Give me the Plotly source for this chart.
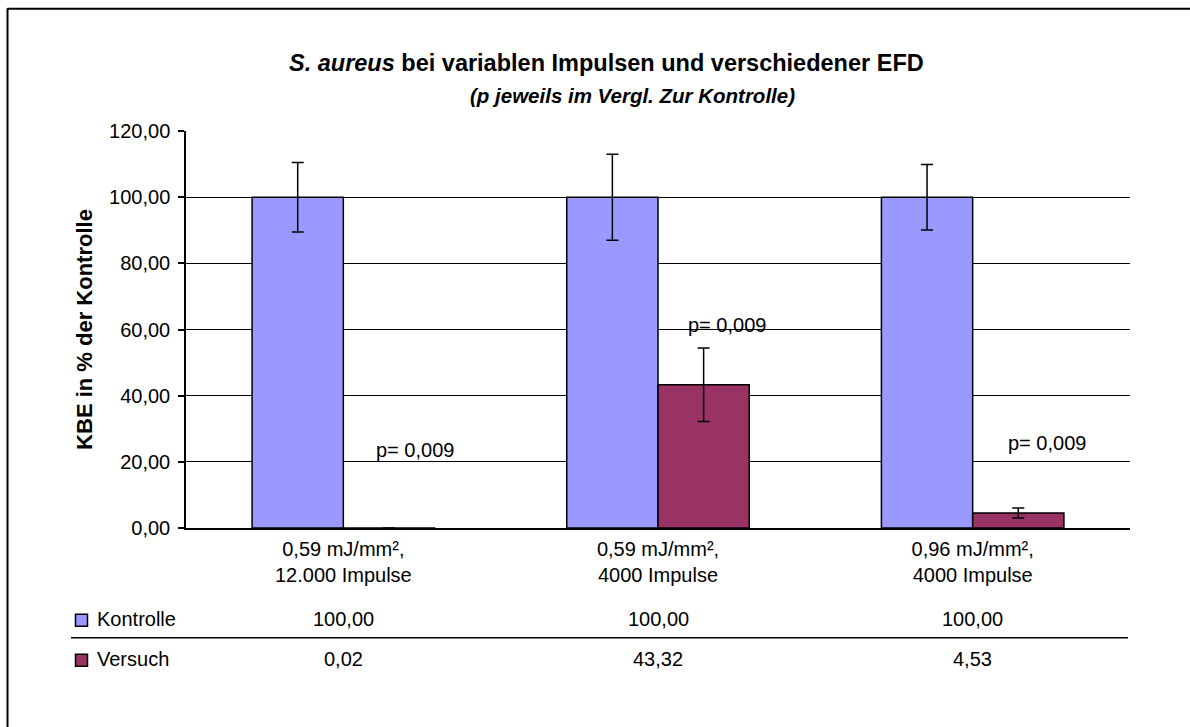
import plotly.graph_objects as go

categories = ["0,59 mJ/mm²,<br>12.000 Impulse", "0,59 mJ/mm²,<br>4000 Impulse", "0,96 mJ/mm²,<br>4000 Impulse"]
kontrolle = [100.00, 100.00, 100.00]
kontrolle_err = [10.5, 13.0, 9.9]
versuch = [0.02, 43.32, 4.53]
versuch_err = [0.0, 11.1, 1.5]
p_labels = ["p= 0,009", "p= 0,009", "p= 0,009"]
p_y = [23.5, 61.3, 25.6]
y_ticks = [0, 20, 40, 60, 80, 100, 120]

FONT = "Liberation Sans, Arial, sans-serif"
FS = 20
L, R, T, B = 186, 1130, 130.7, 527.7


def px(x):
    return (x - L) / (R - L)


def py(y):
    return (B - y) / (B - T)


def fmt(v):
    return f"{v:.2f}".replace(".", ",")


fig = go.Figure()
fig.add_trace(go.Bar(
    name="Kontrolle", x=categories, y=kontrolle,
    marker=dict(color="#9999FF", line=dict(color="black", width=1.5)),
    error_y=dict(type="data", array=kontrolle_err, color="black", thickness=1.5, width=6),
))
fig.add_trace(go.Bar(
    name="Versuch", x=categories, y=versuch,
    marker=dict(color="#993366", line=dict(color="black", width=1.5)),
    error_y=dict(type="data", array=versuch_err, color="black", thickness=1.5, width=6),
))

annotations = []
shifts = [72, 69, 74]
for i, c in enumerate(categories):
    annotations.append(dict(x=c, y=p_y[i], xref="x", yref="y", text=p_labels[i], showarrow=False,
                            xanchor="center", yanchor="middle",
                            xshift=shifts[i], font=dict(size=FS, color="black", family=FONT)))

# Title
annotations.append(dict(x=px(606), y=py(63), xref="paper", yref="paper",
                        xanchor="center", yanchor="middle",
                        text="<b><i>S. aureus</i> bei variablen Impulsen und verschiedener EFD</b>",
                        showarrow=False, font=dict(size=23.5, color="black", family=FONT)))
annotations.append(dict(x=px(632), y=py(95), xref="paper", yref="paper",
                        xanchor="center", yanchor="middle",
                        text="<b><i>(p jeweils im Vergl. Zur Kontrolle)</i></b>",
                        showarrow=False, font=dict(size=20.5, color="black", family=FONT)))

# Data table
rows = [("Kontrolle", kontrolle, "#9999FF", 619), ("Versuch", versuch, "#993366", 659)]
shapes = []
for name, vals, col, yc in rows:
    annotations.append(dict(x=px(95), y=py(yc), xref="paper", yref="paper", text=name,
                            xanchor="left", yanchor="middle", showarrow=False,
                            font=dict(size=FS, color="black", family=FONT)))
    shapes.append(dict(type="rect", xref="paper", yref="paper",
                       x0=px(75.5), x1=px(87.5), y0=py(yc + 7), y1=py(yc - 5),
                       fillcolor=col, line=dict(color="black", width=1.5)))
    for i, c in enumerate(categories):
        annotations.append(dict(x=c, y=py(yc), xref="x", yref="paper", text=fmt(vals[i]),
                                xanchor="center", yanchor="middle",
                                showarrow=False, font=dict(size=FS, color="black", family=FONT)))

shapes.append(dict(type="line", xref="paper", yref="paper", x0=px(71), x1=px(1128),
                   y0=py(637.5), y1=py(637.5), line=dict(color="black", width=1.5)))
# outer border (left and top)
shapes.append(dict(type="line", xref="paper", yref="paper", x0=px(7.5), x1=px(7.5),
                   y0=py(8), y1=py(740), line=dict(color="black", width=2)))
shapes.append(dict(type="line", xref="paper", yref="paper", x0=px(7.5), x1=px(1200),
                   y0=py(8.5), y1=py(8.5), line=dict(color="black", width=2)))

fig.update_layout(
    width=1190, height=727,
    margin=dict(l=L, r=1190 - R, t=T, b=727 - B, pad=0),
    paper_bgcolor="white", plot_bgcolor="white",
    barmode="group", bargap=0.42, bargroupgap=0,
    showlegend=False,
    separators=",.",
    font=dict(family=FONT, color="black", size=FS),
    annotations=annotations, shapes=shapes,
)
fig.update_xaxes(
    showline=True, linecolor="black", linewidth=1.5, ticks="", showgrid=False,
    tickfont=dict(size=FS, family=FONT, color="black"), ticklabelstandoff=2,
)
fig.update_yaxes(
    range=[0, 120], tickvals=y_ticks, tickformat=".2f",
    showline=True, linecolor="black", linewidth=1.5,
    ticks="outside", ticklen=6, tickcolor="black", tickwidth=1.5,
    showgrid=True, gridcolor="black", gridwidth=1.2, zeroline=False,
    tickfont=dict(size=FS, family=FONT, color="black"), ticklabelstandoff=4,
    title=dict(text="<b>KBE in % der Kontrolle</b>", font=dict(size=22, family=FONT, color="black"),
               standoff=10),
)

fig.write_html("out.html", config={"displayModeBar": False},
               post_script="document.body.style.margin='0px';document.body.style.overflow='hidden';")
